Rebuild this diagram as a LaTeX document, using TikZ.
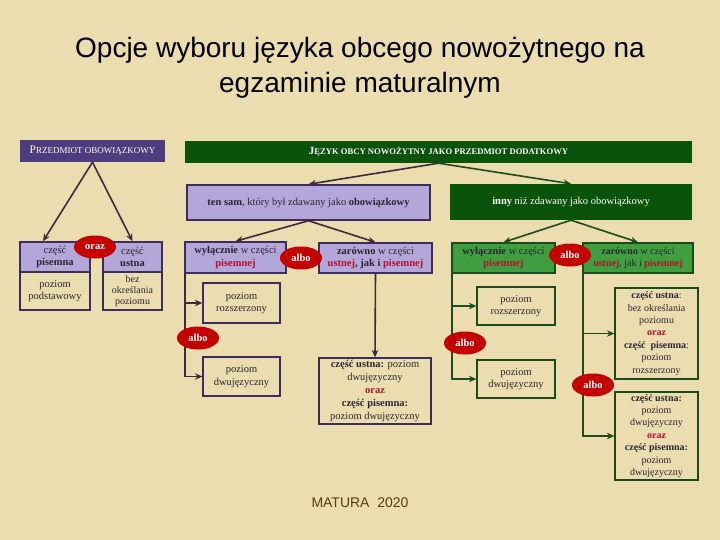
\documentclass[tikz,border=0pt]{standalone}
\usepackage{fontspec}
\setmainfont{Liberation Serif}
\newfontfamily\titlefont{Liberation Sans}
\usetikzlibrary{arrows.meta,shapes.geometric,calc}
\definecolor{bg}{HTML}{EBDDAF}
\definecolor{pdark}{HTML}{4E3D7E}
\definecolor{lav}{HTML}{B3A6D8}
\definecolor{pborder}{HTML}{3C2E5C}
\definecolor{dkgreen}{HTML}{0A530A}
\definecolor{mgreen}{HTML}{3F9F3F}
\definecolor{gborder}{HTML}{1C4A1C}
\definecolor{ovred}{HTML}{C40000}
\definecolor{tred}{HTML}{B5102E}
\definecolor{txt}{HTML}{2A2630}
\definecolor{parrow}{HTML}{3D2B3D}
\definecolor{garrow}{HTML}{1F4A1F}
\definecolor{matura}{HTML}{5A3A14}
\newcommand\mysc[1]{{\fontsize{9}{10}\selectfont #1}}
\newcommand\myscg[1]{{\fontsize{8.6}{10}\selectfont #1}}
\newcommand\rb[1]{\textcolor{tred}{\textbf{#1}}}
\begin{document}
\begin{tikzpicture}[x=1pt,y=-1pt,
  every node/.style={inner sep=0pt, align=center, text=txt, font=\fontsize{10.5}{12.5}\selectfont},
  lbox/.style={draw=pborder, line width=1.5pt, fill=lav},
  obox/.style={draw=pborder, line width=1.2pt},
  gbox/.style={draw=gborder, line width=1.5pt, fill=mgreen},
  ogbox/.style={draw=gborder, line width=1.2pt},
  oval/.style={ellipse, fill=ovred, minimum width=42pt, minimum height=23pt, text=white, font=\bfseries\fontsize{10.5}{12}\selectfont},
  parr/.style={draw=parrow, line width=1.6pt, -{Stealth[length=7.5pt,width=6.5pt]}},
  garr/.style={draw=garrow, line width=1.6pt, -{Stealth[length=7.5pt,width=6.5pt]}},
  multi/.style={font=\fontsize{10.5}{12.9}\selectfont},
  multir/.style={font=\fontsize{10}{12.4}\selectfont}
]
\fill[bg] (0,0) rectangle (720,540);
\useasboundingbox (0,0) rectangle (720,540);

% title and footer
\node[text=black, font=\titlefont\fontsize{28}{35}\selectfont] (title) at (360,68)
  {Opcje wyboru języka obcego nowożytnego na\\egzaminie maturalnym};
\node[text=matura, font=\titlefont\fontsize{14}{16}\selectfont] (foot) at (360,503) {MATURA\ \ 2020};

% headers
\node[fill=pdark, minimum width=145pt, minimum height=22pt, text=white, font=\fontsize{11.5}{12}\selectfont] (pob) at (92.5,151)
  {P\mysc{RZEDMIOT OBOWIĄZKOWY}};
\node[fill=dkgreen, minimum width=507pt, minimum height=22pt, text=white, font=\bfseries\fontsize{11}{12}\selectfont] (jez) at (438.5,152)
  {J\myscg{ĘZYK OBCY NOWOŻYTNY JAKO PRZEDMIOT DODATKOWY}};

% second level
\node[lbox, minimum width=243pt, minimum height=35pt] (tensam) at (308.5,202.5)
  {\textbf{ten sam}, który był zdawany jako \textbf{obowiązkowy}};
\node[fill=dkgreen, minimum width=242pt, minimum height=36pt, text=white] (inny) at (571,202)
  {\textbf{inny} niż zdawany jako obowiązkowy};

% left column
\node[lbox, minimum width=70pt, minimum height=30pt] (pis) at (55,257) {część\\\textbf{pisemna}};
\node[obox, minimum width=70pt, minimum height=38pt] (pisl) at (55,291) {poziom\\podstawowy};
\node[lbox, minimum width=59pt, minimum height=30pt] (ust) at (132.5,257) {część\\\textbf{ustna}};
\node[obox, minimum width=59pt, minimum height=38pt, font=\fontsize{10}{11.3}\selectfont] (ustl) at (132.5,291) {bez\\określania\\poziomu};

% middle column
\node[lbox, minimum width=101pt, minimum height=31pt] (wyl1) at (235.5,257.5)
  {\textbf{wyłącznie} w części\\\rb{pisemnej}};
\node[lbox, minimum width=113pt, minimum height=30pt] (zar1) at (375.5,258)
  {\textbf{zarówno} w części\\\rb{ustnej}\textbf{, jak i} \rb{pisemnej}};
\node[obox, minimum width=77pt, minimum height=40pt] (roz1) at (241.5,303) {poziom\\rozszerzony};
\node[obox, minimum width=77pt, minimum height=39pt] (dwu1) at (241.5,376.5) {poziom\\dwujęzyczny};
\node[obox, multi, minimum width=112pt, minimum height=66pt] (both1) at (375,391)
  {\textbf{część ustna:} poziom\\dwujęzyczny\\\rb{oraz}\\\textbf{część pisemna:}\\poziom dwujęzyczny};

% right column
\node[gbox, minimum width=103pt, minimum height=30pt] (wyl2) at (503.5,258)
  {\textbf{wyłącznie} w części\\\rb{pisemnej}};
\node[gbox, minimum width=110pt, minimum height=30pt, font=\fontsize{10}{12}\selectfont] (zar2) at (638,258)
  {\textbf{zarówno} w części\\\rb{ustnej}, jak i \rb{pisemnej}};
\node[ogbox, minimum width=78pt, minimum height=38pt] (roz2) at (516,306) {poziom\\rozszerzony};
\node[ogbox, minimum width=78pt, minimum height=38pt] (dwu2) at (516,379) {poziom\\dwujęzyczny};
\node[ogbox, multir, minimum width=83pt, minimum height=91pt] (b2a) at (656.5,333.5)
  {\textbf{część ustna}:\\bez określania\\poziomu\\\rb{oraz}\\\textbf{część\ \ pisemna}:\\poziom\\rozszerzony};
\node[ogbox, multir, minimum width=83pt, minimum height=88pt] (b2b) at (656.5,436)
  {\textbf{część ustna:}\\poziom\\dwujęzyczny\\\rb{oraz}\\\textbf{część pisemna:}\\poziom\\dwujęzyczny};

% connectors
\draw[parr] (pob.south) -- ([xshift=-12pt]pis.north);
\draw[parr] (pob.south) -- (ust.north);
\draw[parr] (jez.south) -- (tensam.north);
\draw[garr] (jez.south) -- (inny.north);
\draw[parr] (tensam.south) -- (wyl1.north);
\draw[parr] (tensam.south) -- (zar1.north);
\draw[garr] (inny.south) -- (wyl2.north);
\draw[garr] (inny.south) -- (zar2.north);

\coordinate (m1) at ([xshift=1pt]wyl1.south west);
\draw[parr] (m1) |- (dwu1.west);
\draw[parr] (m1 |- roz1.west) -- (roz1.west);
\draw[parr] (zar1.south) -- (both1.north);

\coordinate (m2) at ([xshift=1pt]wyl2.south west);
\draw[garr] (m2) |- (dwu2.west);
\draw[garr] (m2 |- roz2.west) -- (roz2.west);

\coordinate (m3) at ([xshift=0.5pt]zar2.south west);
\draw[garr] (m3) |- (b2b.west);
\draw[garr] (m3 |- b2a.west) -- (b2a.west);

% ovals
\node[oval] (oraz) at (95,247) {oraz};
\node[oval] (albo1) at (301,258) {albo};
\node[oval] (albo2) at (198,338) {albo};
\node[oval] (albo3) at (570,255) {albo};
\node[oval] (albo4) at (465,343) {albo};
\node[oval] (albo5) at (593,385) {albo};
\end{tikzpicture}
\end{document}
